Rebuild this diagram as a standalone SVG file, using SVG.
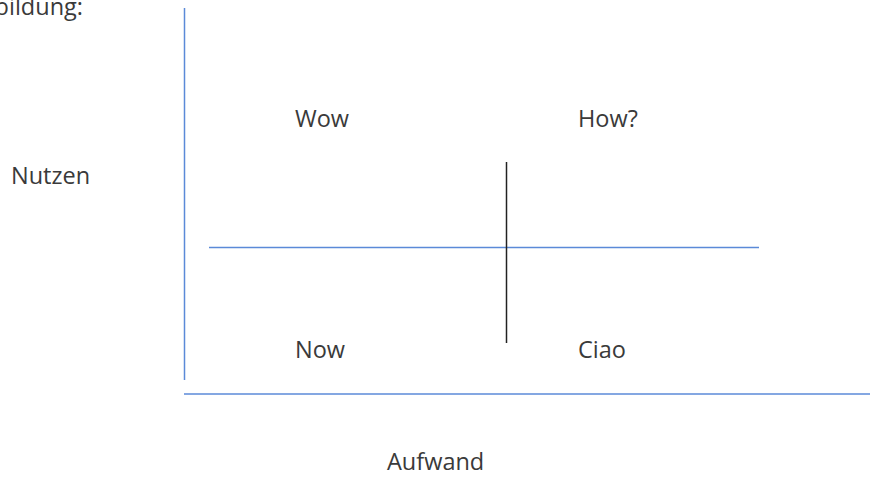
<svg xmlns="http://www.w3.org/2000/svg" width="884" height="477" viewBox="0 0 884 477">
<style>
text{font-family:"Open Sans","Noto Sans",sans-serif;font-size:23.5px;fill:#3a3a3a}
.ax{stroke:#5b8ad8;stroke-width:1.5;fill:none}
.dv{stroke:#222;stroke-width:1.5;fill:none}
</style>
<rect width="884" height="477" fill="#fff"/>
<text x="83" y="15" text-anchor="end">Abbildung:</text>
<g id="connectors">
<line class="ax" x1="184.5" y1="8" x2="184.5" y2="380"/>
<line class="ax" x1="184" y1="394" x2="870" y2="394"/>
<line class="ax" x1="209" y1="247.5" x2="759" y2="247.5"/>
<line class="dv" x1="506.5" y1="162" x2="506.5" y2="343"/>
</g>
<g id="nutzen"><text x="11" y="184">Nutzen</text></g>
<g id="aufwand"><text x="387" y="470">Aufwand</text></g>
<g id="wow"><text x="295" y="127">Wow</text></g>
<g id="how"><text x="578" y="127">How?</text></g>
<g id="now"><text x="295" y="358">Now</text></g>
<g id="ciao"><text x="578" y="358">Ciao</text></g>
</svg>
